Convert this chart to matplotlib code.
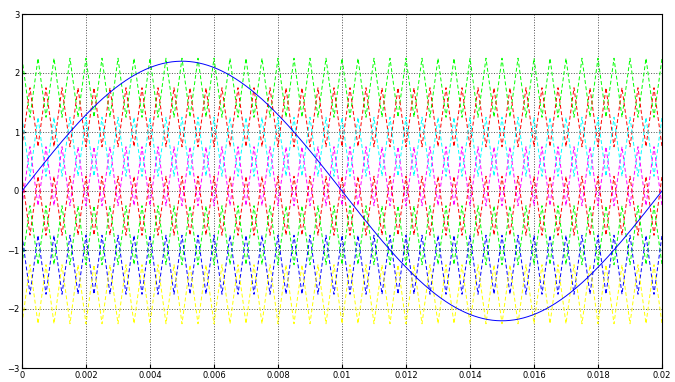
import matplotlib.pyplot as plt
import numpy as np

# reference sine
ref_amp = 2.2
ref_freq = 50.0
# triangular carriers (top to bottom)
carrier_freq = 2000.0
carrier_pp = 1.0
carrier_centers = [1.75, 1.25, 0.75, 0.25, -0.25, -0.75, -1.25, -1.75]
carrier_phase = [1, -1, 1, -1, 1, -1, 1, -1]
carrier_colors = ['#00ff00', '#ff0000', '#00ffff', '#ff00ff',
                  '#ff0000', '#00ff00', '#0000ff', '#ffff00']

xticks = [0, 0.002, 0.004, 0.006, 0.008, 0.01, 0.012, 0.014, 0.016, 0.018, 0.02]
xticklabels = ['0', '0.002', '0.004', '0.006', '0.008', '0.01', '0.012',
               '0.014', '0.016', '0.018', '0.02']
yticks = [-3, -2, -1, 0, 1, 2, 3]

t_end = 0.02

fig = plt.figure(figsize=(6.75, 3.82), dpi=100)
ax = fig.add_axes([22 / 675, 14 / 382, 640 / 675, 354 / 382])

# carrier vertices: one peak/valley every half period
n_half = int(round(t_end * carrier_freq * 2))
tv = np.arange(n_half + 1) / (2 * carrier_freq)
sgn = np.where(np.arange(n_half + 1) % 2 == 0, 1.0, -1.0)
for c, p, col in zip(carrier_centers, carrier_phase, carrier_colors):
    ax.plot(tv, c + p * sgn * carrier_pp / 2, color=col, lw=0.7,
            ls=(0, (4, 2.5)), zorder=2)

t = np.linspace(0, t_end, 1000)
ax.plot(t, ref_amp * np.sin(2 * np.pi * ref_freq * t), color='#0000ff',
        lw=0.7, zorder=3)

ax.set_xlim(0, t_end)
ax.set_ylim(-3, 3)
ax.set_xticks(xticks)
ax.set_xticklabels(xticklabels)
ax.set_yticks(yticks)
ax.grid(True, ls=':', color='#505050', lw=0.7)
ax.tick_params(labelsize=6, length=3, direction='in', pad=2)
for s in ax.spines.values():
    s.set_linewidth(0.8)

fig.savefig('out.png', dpi=100)
